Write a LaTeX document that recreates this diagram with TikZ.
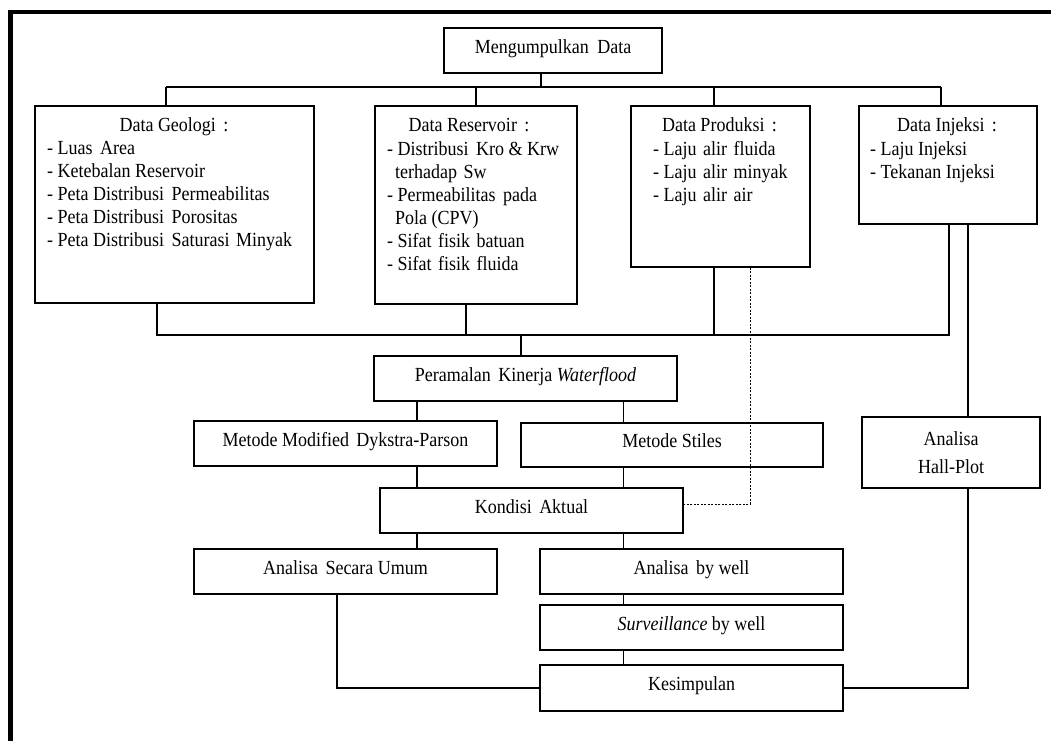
\documentclass[tikz,border=0pt]{standalone}
\usepackage{fontspec}
\setmainfont{Liberation Serif}[FakeStretch=0.9]
\begin{document}
\begin{tikzpicture}[x=1pt,y=-1pt,
  every node/.style={font=\fontsize{20}{23}\selectfont},
  box/.style={draw, line width=1.2pt, inner sep=0pt},
  sbox/.style={box, minimum height=45, text height=13pt, text depth=8pt},
  conn/.style={line width=1.2pt},
  lbl/.style={inner sep=0pt},
  dashconn/.style={line width=0.9pt, dash pattern=on 2pt off 1.5pt}
]
\useasboundingbox (0,0) rectangle (1051,740);
% frame
\draw[line width=4.5pt] (10.5,745) -- (10.5,12) -- (1056,12);

% top level
\node[sbox, minimum width=218] (top) at (553,50.5) {Mengumpulkan\hspace{4pt} Data};

% data boxes
\node[box, minimum width=279, minimum height=197] (geo) at (174.5,204.5) {};
\node[lbl, anchor=base] (geoT) at (174,131) {Data Geologi\hspace{3pt} :};
\node[lbl, anchor=north west, align=left] (geoL) at (47,141) {- Luas\hspace{3pt} Area\\- Ketebalan Reservoir\\- Peta Distribusi\hspace{3pt} Permeabilitas\\- Peta Distribusi\hspace{3pt} Porositas\\- Peta Distribusi\hspace{3pt} Saturasi\hspace{2pt} Minyak};

\node[box, minimum width=202, minimum height=198] (res) at (476,205) {};
\node[lbl, anchor=base] (resT) at (469,131) {Data Reservoir\hspace{3pt} :};
\node[lbl, anchor=north west, align=left] (resL) at (387,141) {- Distribusi\hspace{3pt} Kro \& Krw\\\hspace*{8pt}terhadap\hspace{2pt} Sw\\- Permeabilitas\hspace{3pt} pada\\\hspace*{8pt}Pola (CPV)\\- Sifat\hspace{2pt} fisik\hspace{2pt} batuan\\- Sifat\hspace{2pt} fisik\hspace{2pt} fluida};

\node[box, minimum width=179, minimum height=161] (prod) at (720.5,186.5) {};
\node[lbl, anchor=base] (prodT) at (719.5,131) {Data Produksi\hspace{3pt} :};
\node[lbl, anchor=north west, align=left] (prodL) at (653,141) {- Laju\hspace{2pt} alir\hspace{2pt} fluida\\- Laju\hspace{2pt} alir\hspace{2pt} minyak\\- Laju\hspace{2pt} alir\hspace{2pt} air};

\node[box, minimum width=178, minimum height=118] (inj) at (948,165) {};
\node[lbl, anchor=base] (injT) at (947,131) {Data Injeksi\hspace{3pt} :};
\node[lbl, anchor=north west, align=left] (injL) at (870,141) {- Laju Injeksi\\- Tekanan Injeksi};

% lower boxes
\node[sbox, minimum width=303] (per) at (525.5,378.5) {Peramalan\hspace{3pt} Kinerja \textit{Waterflood}};
\node[sbox, minimum width=303] (mmd) at (345.5,443.5) {Metode Modified\hspace{3pt} Dykstra-Parson};
\node[sbox, minimum width=302, minimum height=44] (sti) at (672,445) {Metode Stiles};
\node[box, minimum width=178, minimum height=71, align=center, font=\fontsize{20}{28}\selectfont] (hall) at (951,452.5) {Analisa\\Hall-Plot};
\node[sbox, minimum width=303] (kond) at (531.5,510.5) {Kondisi\hspace{3pt} Aktual};
\node[sbox, minimum width=303] (asu) at (345.5,571.5) {Analisa\hspace{3pt} Secara Umum};
\node[sbox, minimum width=303] (abw) at (691.5,571.5) {Analisa\hspace{3pt} by well};
\node[sbox, minimum width=303] (surv) at (691.5,627.5) {\textit{Surveillance} by well};
\node[sbox, minimum width=303, minimum height=46] (kes) at (691.5,688) {Kesimpulan};

% helper coordinates
\coordinate (busT) at (0,87);
\coordinate (busB) at (0,335);
\coordinate (dY) at (0,504);
\coordinate (xA) at (541,0);
\coordinate (xG1) at (166,0);
\coordinate (xR1) at (476,0);
\coordinate (xP) at (714,0);
\coordinate (xI1) at (941,0);
\coordinate (xG2) at (157,0);
\coordinate (xR2) at (466,0);
\coordinate (xI2) at (949,0);
\coordinate (xPer) at (521,0);
\coordinate (xL) at (417,0);
\coordinate (xR) at (623.5,0);
\coordinate (xH) at (968,0);
\coordinate (xAsu) at (337,0);
\coordinate (xD) at (750,0);

% connectors
\draw[conn] (xA |- top.south) -- (xA |- busT);
\draw[conn] (xG1 |- busT) -- (xI1 |- busT);
\draw[conn] (xG1 |- busT) -- (xG1 |- geo.north);
\draw[conn] (xR1 |- busT) -- (xR1 |- res.north);
\draw[conn] (xP |- busT) -- (xP |- prod.north);
\draw[conn] (xI1 |- busT) -- (xI1 |- inj.north);

\draw[conn] (xG2 |- geo.south) -- (xG2 |- busB) -- (xI2 |- busB) -- (xI2 |- inj.south);
\draw[conn] (xR2 |- res.south) -- (xR2 |- busB);
\draw[conn] (xP |- prod.south) -- (xP |- busB);
\draw[conn] (xPer |- busB) -- (xPer |- per.north);

\draw[conn] (xL |- per.south) -- (xL |- mmd.north);
\draw[conn] (xR |- per.south) -- (xR |- sti.north);
\draw[conn] (xL |- mmd.south) -- (xL |- kond.north);
\draw[conn] (xR |- sti.south) -- (xR |- kond.north);
\draw[conn] (xL |- kond.south) -- (xL |- asu.north);
\draw[conn] (xR |- kond.south) -- (xR |- abw.north);
\draw[conn] (xR |- abw.south) -- (xR |- surv.north);
\draw[conn] (xR |- surv.south) -- (xR |- kes.north);
\draw[conn] (xAsu |- asu.south) |- (kes.west);

\draw[conn] (xH |- inj.south) -- (xH |- hall.north);
\draw[conn] (xH |- hall.south) |- (kes.east);

\draw[dashconn] (xD |- prod.south) -- (xD |- dY) -- (kond.east |- dY);
\end{tikzpicture}
\end{document}
